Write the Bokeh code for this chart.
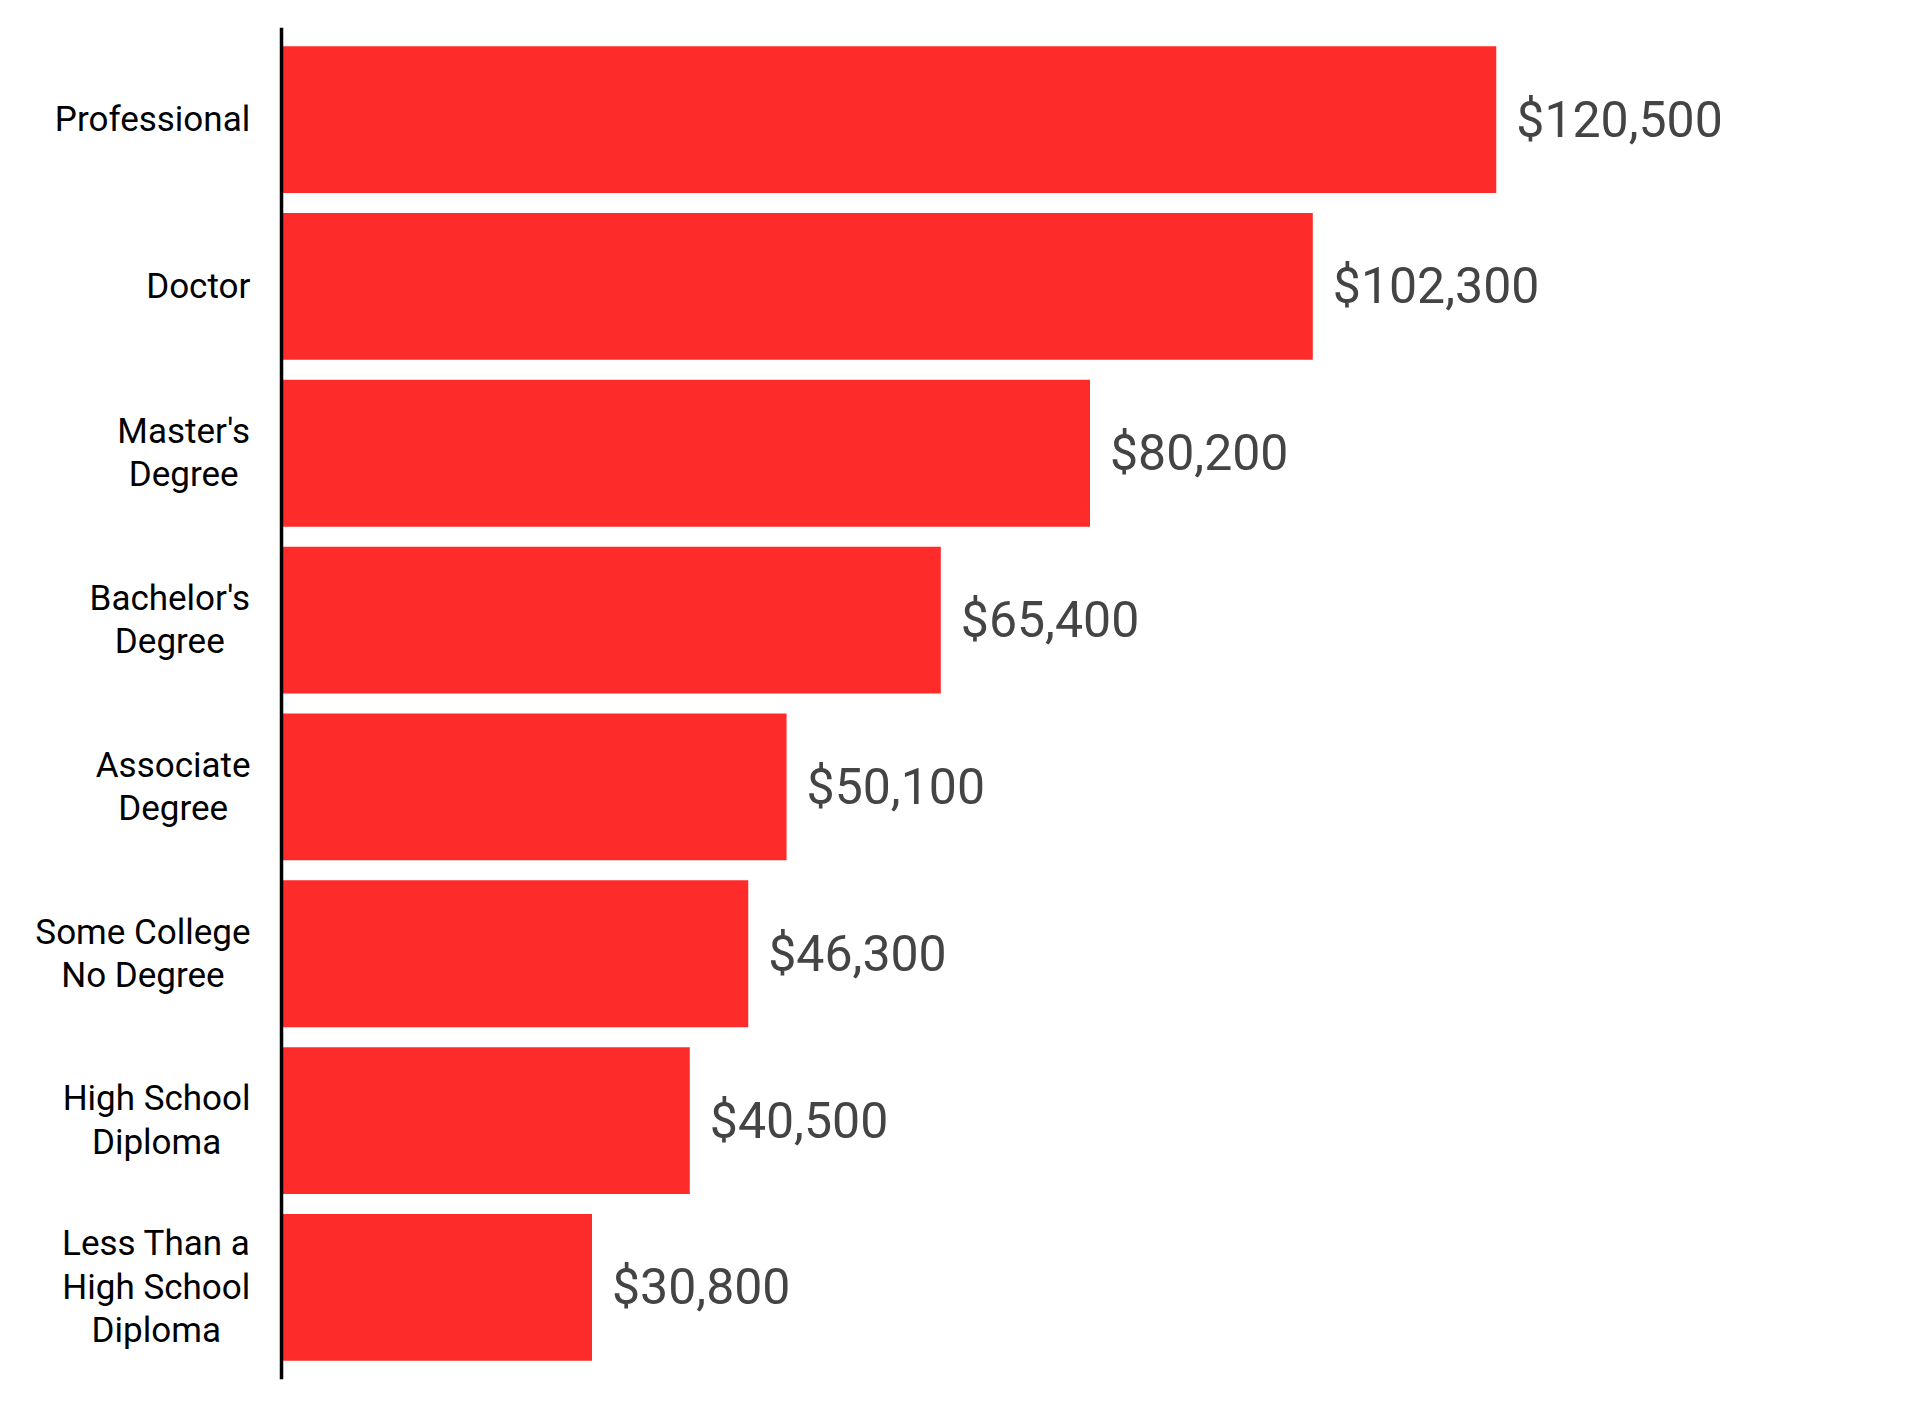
from bokeh.plotting import figure
from bokeh.models import FactorRange, ColumnDataSource, Span
from bokeh.core.properties import value
from bokeh.embed import file_html
from bokeh.resources import INLINE

categories = [
    "Professional",
    "Doctor",
    "Master's\nDegree",
    "Bachelor's\nDegree",
    "Associate\nDegree",
    "Some College\nNo Degree",
    "High School\nDiploma",
    "Less Than a\nHigh School\nDiploma",
]
earnings = [120500, 102300, 80200, 65400, 50100, 46300, 40500, 30800]
value_labels = ["${:,}".format(v) for v in earnings]

# approximate Roboto advance widths (em) to centre multi-line labels
W = {' ': .248, 'a': .544, 'b': .561, 'c': .523, 'd': .564, 'e': .530, 'f': .347,
     'g': .561, 'h': .551, 'i': .243, 'j': .239, 'k': .507, 'l': .243, 'm': .876,
     'n': .552, 'o': .570, 'p': .561, 'q': .568, 'r': .338, 's': .516, 't': .327,
     'u': .551, 'v': .484, 'w': .751, 'x': .496, 'y': .473, 'z': .496,
     'A': .652, 'B': .622, 'C': .651, 'D': .656, 'E': .568, 'F': .553, 'G': .681,
     'H': .713, 'I': .272, 'L': .538, 'M': .873, 'N': .713, 'P': .631, 'S': .593,
     'T': .597, "'": .175}
FS = 35
STANDOFF = 31


def text_width(s):
    return max(sum(W.get(ch, .55) for ch in line) for line in s.split("\n")) * FS


offsets = [-(STANDOFF + text_width(c) / 2) for c in categories]

src = ColumnDataSource(dict(cat=categories, val=earnings, lab=value_labels,
                            zero=[0] * len(categories), off=offsets))

y_range = FactorRange(factors=list(reversed(categories)),
                      range_padding=0.052, range_padding_units="absolute")

X_END = 160200
PLOT_W = 1896
AXIS_PX = 281
x_start = -AXIS_PX * X_END / (PLOT_W - AXIS_PX)

p = figure(width=1904, height=1391, y_range=y_range, x_range=(x_start, X_END),
           output_backend="svg", toolbar_location=None,
           min_border_left=0, min_border_top=27, min_border_bottom=12,
           min_border_right=8)

p.hbar(y="cat", right="val", left=0, height=0.88, source=src,
       fill_color="#FE2B2B", line_color=None)

p.text(x="val", y="cat", text="lab", source=src, x_offset=20,
       text_font=value("Roboto"), text_font_size="50px",
       text_color="#444444", text_baseline="middle", text_align="left")

p.text(x="zero", y="cat", text="cat", source=src, x_offset="off",
       text_font=value("Roboto"), text_font_size=f"{FS}px",
       text_color="black", text_align="center",
       text_baseline="middle", text_line_height=1.06)

p.add_layout(Span(location=0, dimension="height", line_color="black",
                  line_width=3.5))

p.xaxis.visible = False
p.yaxis.visible = False
p.xgrid.visible = False
p.ygrid.visible = False
p.outline_line_color = None

open("out.html", "w").write(file_html(p, INLINE))
